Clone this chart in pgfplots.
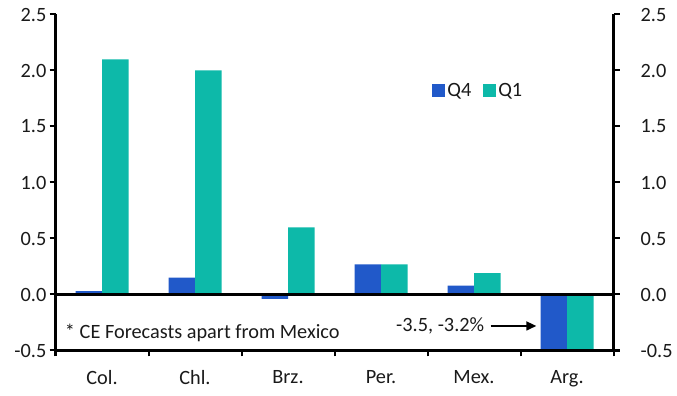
\documentclass[border=0pt]{standalone}
\usepackage{pgfplots}
\pgfplotsset{compat=1.18}
\usepackage{fontspec}
\setmainfont{Carlito}
\usetikzlibrary{arrows.meta}
\definecolor{qfour}{HTML}{2159C9}
\definecolor{qone}{HTML}{0DB9A9}
\definecolor{txt}{HTML}{1A1A1A}
\begin{document}
\fontsize{20.3bp}{24bp}\selectfont
\begin{tikzpicture}
\pgfplotsset{common/.style={scale only axis, width=558bp, height=336bp,
  xmin=0, xmax=6, ymin=-0.5, ymax=2.5,
  ytick={-0.5,0,0.5,1,1.5,2,2.5},
  yticklabels={-0.5,0.0,0.5,1.0,1.5,2.0,2.5},
  tick align=outside, major tick length=6bp,
  every tick/.style={black, line width=2bp},
  axis line style={line width=2.2bp, black},
  ticklabel style={text=txt},
  axis on top}}
\begin{axis}[common, axis y line*=left, axis x line*=bottom,
  yticklabel style={inner sep=0pt, anchor=east, xshift=-3bp},
  xtick={0,1,2,3,4,5,6}, xticklabels={},
  extra x ticks={0.5,1.5,2.5,3.5,4.5,5.5},
  extra x tick labels={Col.,Chl.,Brz.,Per.,Mex.,Arg.},
  extra x tick style={major tick length=0pt, tick label style={yshift=-13bp}},
  ybar=0pt, bar width=26.5bp,
  legend style={draw=none, fill=none, at={(axis cs:4.05,1.817)}, anchor=west,
    inner sep=0pt, text=txt, /tikz/every even column/.append style={column sep=10bp}},
  legend columns=2]
\addplot[fill=qfour, draw=none, legend image code/.code={\fill[qfour] (0bp,-6.5bp) rectangle (13bp,6.5bp);}]
  coordinates {(0.5,0.03) (1.5,0.15) (2.5,-0.04) (3.5,0.27) (4.5,0.08) (5.5,-3.5)};
\addplot[fill=qone, draw=none, legend image code/.code={\fill[qone] (0bp,-6.5bp) rectangle (13bp,6.5bp);}]
  coordinates {(0.5,2.1) (1.5,2.0) (2.5,0.6) (3.5,0.27) (4.5,0.19) (5.5,-3.2)};
\legend{Q4,Q1}
\draw[line width=2.2bp, black] (axis cs:0,0) -- (axis cs:6,0);
\node[anchor=base west, inner sep=0pt, text=txt] at (axis cs:0.10,-0.391) {* CE Forecasts apart from Mexico};
\node[anchor=base west, inner sep=0pt, text=txt] at (axis cs:3.661,-0.326) {-3.5, -3.2\%};
\draw[line width=1.6bp, black, -{Triangle[length=10bp, width=9bp]}] (axis cs:4.68,-0.281) -- (axis cs:5.17,-0.281);
\end{axis}
\begin{axis}[common, axis y line*=right, axis x line=none, yticklabel pos=right,
  yticklabel style={inner sep=0pt, anchor=west, xshift=21bp}, xtick=\empty]
\addplot[draw=none] coordinates {(0,0)};
\end{axis}
\path (-55.5bp,-45.5bp) rectangle (621.5bp,350.5bp);
\end{tikzpicture}
\end{document}
